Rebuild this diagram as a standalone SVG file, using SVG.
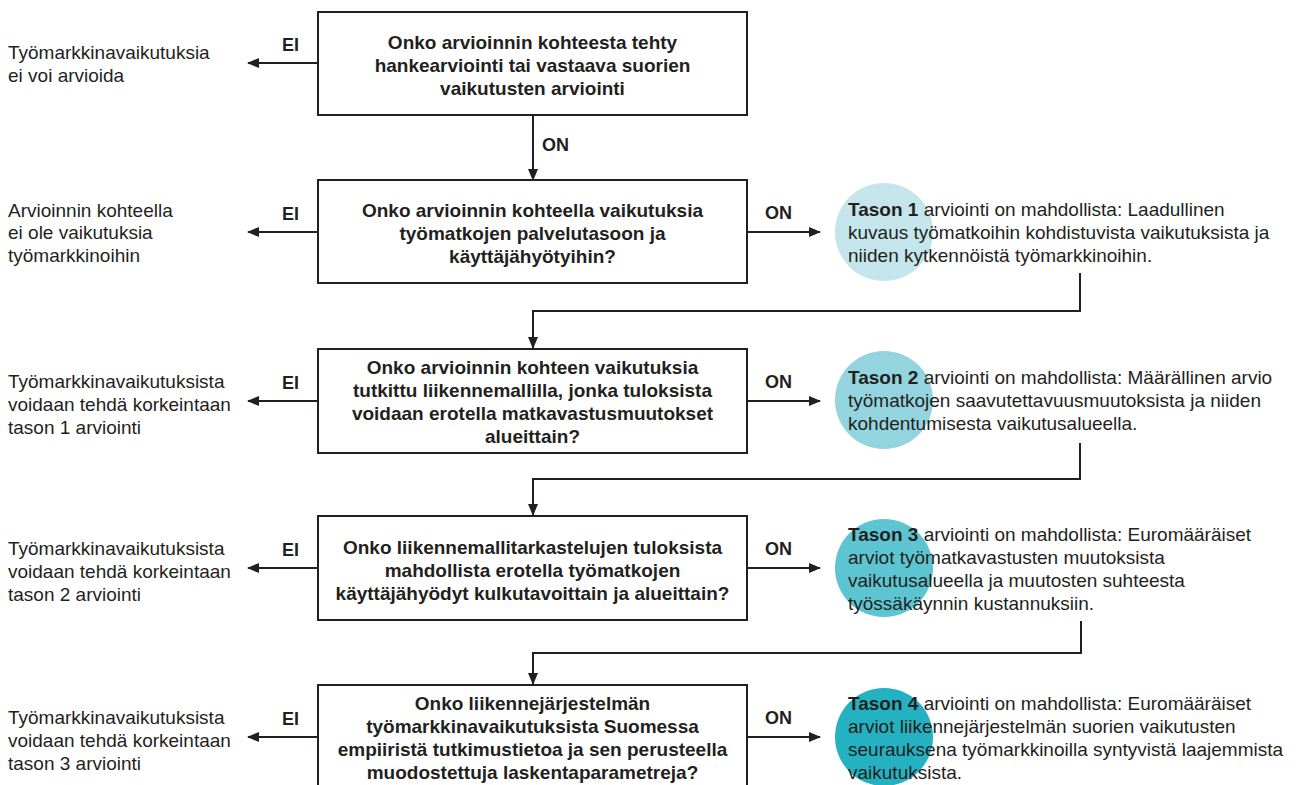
<svg xmlns="http://www.w3.org/2000/svg" width="1296" height="785" viewBox="0 0 1296 785">
<defs>
<style>
text{font-family:"Liberation Sans",Arial,sans-serif;fill:#231f20}
.q{font-size:19px;font-weight:bold;text-anchor:middle}
.t{font-size:19px}
.lbl{font-size:18px;font-weight:bold}
.box{fill:#fff;stroke:#231f20;stroke-width:2}
.ln{fill:none;stroke:#231f20;stroke-width:2}
b,.b{font-weight:bold}
</style>
<marker id="ah" viewBox="0 0 12 10" refX="11" refY="5" markerWidth="12" markerHeight="10" markerUnits="userSpaceOnUse" orient="auto">
<path d="M0,0 L12,5 L0,10 z" fill="#231f20"/>
</marker>
</defs>
<rect width="1296" height="785" fill="#fff"/>

<g id="circles">
<circle cx="884" cy="232" r="49" fill="#c3e5eb"/>
<circle cx="884" cy="400" r="49" fill="#93d4de"/>
<circle cx="884" cy="568" r="49" fill="#5cc5d1"/>
<circle cx="884" cy="737" r="49" fill="#24b2c2"/>
</g>

<g id="connectors">
<line class="ln" x1="318" y1="63" x2="248" y2="63" marker-end="url(#ah)"/>
<line class="ln" x1="533" y1="115" x2="533" y2="180" marker-end="url(#ah)"/>
<line class="ln" x1="318" y1="232" x2="248" y2="232" marker-end="url(#ah)"/>
<line class="ln" x1="747" y1="232" x2="820" y2="232" marker-end="url(#ah)"/>
<polyline class="ln" points="1080,273 1080,311 533,311 533,348" marker-end="url(#ah)"/>
<line class="ln" x1="318" y1="401" x2="248" y2="401" marker-end="url(#ah)"/>
<line class="ln" x1="747" y1="401" x2="820" y2="401" marker-end="url(#ah)"/>
<polyline class="ln" points="1080,443 1080,479 533,479 533,515" marker-end="url(#ah)"/>
<line class="ln" x1="318" y1="568" x2="248" y2="568" marker-end="url(#ah)"/>
<line class="ln" x1="747" y1="568" x2="820" y2="568" marker-end="url(#ah)"/>
<polyline class="ln" points="1081,621 1081,653 533,653 533,684" marker-end="url(#ah)"/>
<line class="ln" x1="318" y1="737" x2="248" y2="737" marker-end="url(#ah)"/>
<line class="ln" x1="747" y1="737" x2="820" y2="737" marker-end="url(#ah)"/>
<text class="lbl" x="290.5" y="51" text-anchor="middle">EI</text>
<text class="lbl" x="542" y="151">ON</text>
<text class="lbl" x="290.5" y="220" text-anchor="middle">EI</text>
<text class="lbl" x="765" y="219">ON</text>
<text class="lbl" x="290.5" y="389" text-anchor="middle">EI</text>
<text class="lbl" x="765" y="388">ON</text>
<text class="lbl" x="290.5" y="556" text-anchor="middle">EI</text>
<text class="lbl" x="765" y="555">ON</text>
<text class="lbl" x="290.5" y="725" text-anchor="middle">EI</text>
<text class="lbl" x="765" y="724">ON</text>
</g>

<g id="q1">
<rect class="box" x="318" y="12" width="429" height="103"/>
<text class="q" x="532.5" y="49">Onko arvioinnin kohteesta tehty</text>
<text class="q" x="532.5" y="72">hankearviointi tai vastaava suorien</text>
<text class="q" x="532.5" y="95">vaikutusten arviointi</text>
</g>
<g id="q2">
<rect class="box" x="318" y="180" width="429" height="103"/>
<text class="q" x="532.5" y="217">Onko arvioinnin kohteella vaikutuksia</text>
<text class="q" x="532.5" y="240">työmatkojen palvelutasoon ja</text>
<text class="q" x="532.5" y="263">käyttäjähyötyihin?</text>
</g>
<g id="q3">
<rect class="box" x="318" y="349" width="429" height="104"/>
<text class="q" x="532.5" y="374">Onko arvioinnin kohteen vaikutuksia</text>
<text class="q" x="532.5" y="397">tutkittu liikennemallilla, jonka tuloksista</text>
<text class="q" x="532.5" y="420">voidaan erotella matkavastusmuutokset</text>
<text class="q" x="532.5" y="443">alueittain?</text>
</g>
<g id="q4">
<rect class="box" x="318" y="516" width="429" height="104"/>
<text class="q" x="532.5" y="554">Onko liikennemallitarkastelujen tuloksista</text>
<text class="q" x="532.5" y="577">mahdollista erotella työmatkojen</text>
<text class="q" x="532.5" y="600">käyttäjähyödyt kulkutavoittain ja alueittain?</text>
</g>
<g id="q5">
<rect class="box" x="318" y="685" width="429" height="104"/>
<text class="q" x="532.5" y="710">Onko liikennejärjestelmän</text>
<text class="q" x="532.5" y="733">työmarkkinavaikutuksista Suomessa</text>
<text class="q" x="532.5" y="756">empiiristä tutkimustietoa ja sen perusteella</text>
<text class="q" x="532.5" y="779">muodostettuja laskentaparametreja?</text>
</g>

<g id="left1">
<text class="t" x="8" y="59">Työmarkkinavaikutuksia</text>
<text class="t" x="8" y="82">ei voi arvioida</text>
</g>
<g id="left2">
<text class="t" x="8" y="217">Arvioinnin kohteella</text>
<text class="t" x="8" y="239">ei ole vaikutuksia</text>
<text class="t" x="8" y="262">työmarkkinoihin</text>
</g>
<g id="left3">
<text class="t" x="8" y="388">Työmarkkinavaikutuksista</text>
<text class="t" x="8" y="411">voidaan tehdä korkeintaan</text>
<text class="t" x="8" y="434">tason 1 arviointi</text>
</g>
<g id="left4">
<text class="t" x="8" y="555">Työmarkkinavaikutuksista</text>
<text class="t" x="8" y="578">voidaan tehdä korkeintaan</text>
<text class="t" x="8" y="601">tason 2 arviointi</text>
</g>
<g id="left5">
<text class="t" x="8" y="724">Työmarkkinavaikutuksista</text>
<text class="t" x="8" y="747">voidaan tehdä korkeintaan</text>
<text class="t" x="8" y="770">tason 3 arviointi</text>
</g>

<g id="level1">
<text class="t" x="848" y="216"><tspan class="b">Tason 1</tspan> arviointi on mahdollista: Laadullinen</text>
<text class="t" x="848" y="239">kuvaus työmatkoihin kohdistuvista vaikutuksista ja</text>
<text class="t" x="848" y="262">niiden kytkennöistä työmarkkinoihin.</text>
</g>
<g id="level2">
<text class="t" x="848" y="384"><tspan class="b">Tason 2</tspan> arviointi on mahdollista: Määrällinen arvio</text>
<text class="t" x="848" y="407">työmatkojen saavutettavuusmuutoksista ja niiden</text>
<text class="t" x="848" y="430">kohdentumisesta vaikutusalueella.</text>
</g>
<g id="level3">
<text class="t" x="848" y="541"><tspan class="b">Tason 3</tspan> arviointi on mahdollista: Euromääräiset</text>
<text class="t" x="848" y="564">arviot työmatkavastusten muutoksista</text>
<text class="t" x="848" y="587">vaikutusalueella ja muutosten suhteesta</text>
<text class="t" x="848" y="610">työssäkäynnin kustannuksiin.</text>
</g>
<g id="level4">
<text class="t" x="848" y="710"><tspan class="b">Tason 4</tspan> arviointi on mahdollista: Euromääräiset</text>
<text class="t" x="848" y="733">arviot liikennejärjestelmän suorien vaikutusten</text>
<text class="t" x="848" y="756">seurauksena työmarkkinoilla syntyvistä laajemmista</text>
<text class="t" x="848" y="779">vaikutuksista.</text>
</g>
</svg>
